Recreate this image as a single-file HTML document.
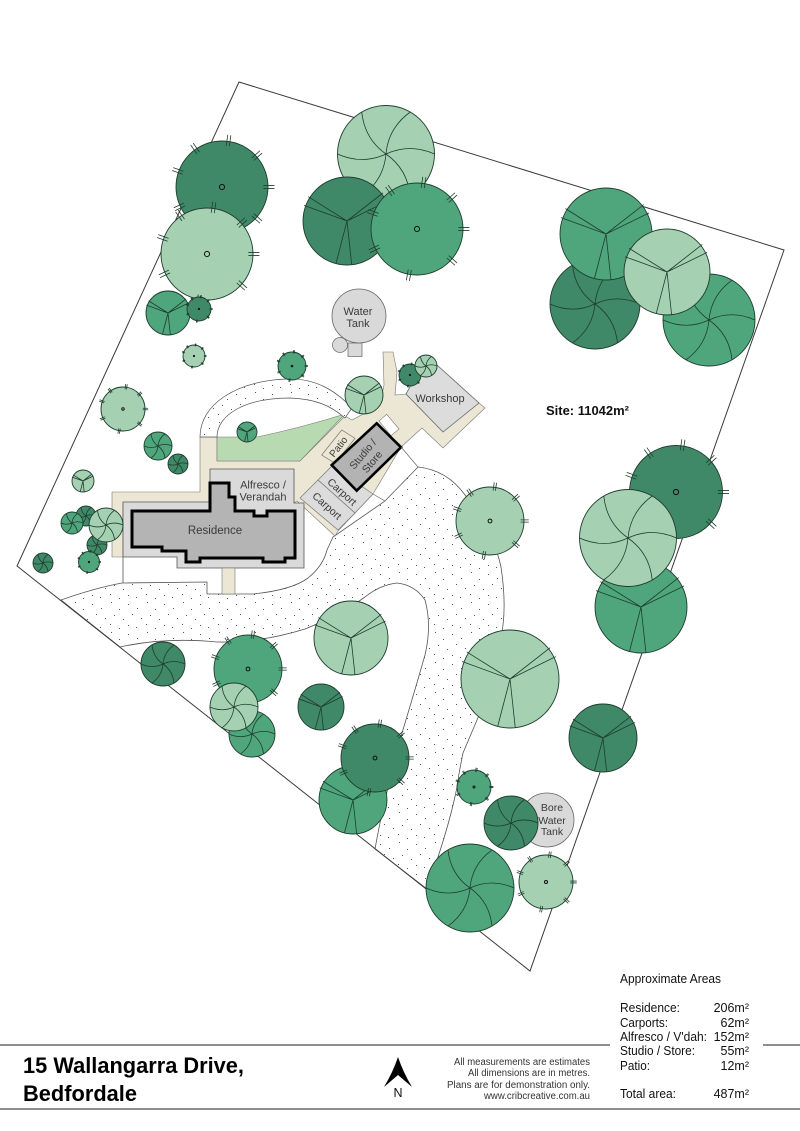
<!DOCTYPE html>
<html><head><meta charset="utf-8">
<style>
html,body{margin:0;padding:0;background:#fff;}
svg{display:block;}
text{font-family:"Liberation Sans",Arial,sans-serif;}
</style></head><body>
<svg width="800" height="1131" viewBox="0 0 800 1131" xmlns="http://www.w3.org/2000/svg">
<defs>
<pattern id="gr" width="36" height="30" patternUnits="userSpaceOnUse">
<rect width="36" height="30" fill="#fff"/>
<path fill="#555" d="M3 2h1v1h-1zM20 4h1v1h-1zM11 9h1v1h-1zM29 8h1v1h-1zM6 15h1v1h-1zM24 14h1v1h-1zM15 19h1v1h-1zM33 18h1v1h-1zM2 24h1v1h-1zM20 25h1v1h-1zM11 28h1v1h-1zM28 27h1v1h-1z"/>
</pattern>
<g id="tk"><path d="M45 -1.7H57M45 1.7H57" fill="none" stroke="#1f3d2e" stroke-width="0.8" vector-effect="non-scaling-stroke"/></g>
<g id="dot">
<circle r="50" stroke="#1f3d2e" stroke-width="0.9" vector-effect="non-scaling-stroke"/>
<circle r="2.8" fill="none" stroke="#111" stroke-width="1" vector-effect="non-scaling-stroke"/>
<use href="#tk"/><use href="#tk" transform="rotate(42)"/><use href="#tk" transform="rotate(100)"/><use href="#tk" transform="rotate(155)"/><use href="#tk" transform="rotate(200)"/><use href="#tk" transform="rotate(235)"/><use href="#tk" transform="rotate(278)"/><use href="#tk" transform="rotate(318)"/>
</g>
<g id="seg">
<circle r="50" stroke="#1f3d2e" stroke-width="0.9" vector-effect="non-scaling-stroke"/>
<path d="M0 0L-48.9 -17.8M0 0L-44.1 -27.6M0 0L41 -32M0 0L46.7 -22.8M0 0L5.4 50M0 0L-12.6 48.5" fill="none" stroke="#1f3d2e" stroke-width="0.8" vector-effect="non-scaling-stroke"/>
</g>
<g id="flw">
<circle r="50" stroke="#1f3d2e" stroke-width="0.9" vector-effect="non-scaling-stroke"/>
<path d="M0 0Q24.5 -11.4 50 0M0 0Q22.1 15.5 25 43.3M0 0Q-2.4 26.9 -25 43.3M0 0Q-24.5 11.4 -50 0M0 0Q-22.1 -15.5 -25 -43.3M0 0Q2.4 -26.9 25 -43.3" fill="none" stroke="#1f3d2e" stroke-width="0.8" vector-effect="non-scaling-stroke"/>
</g>
</defs>

<rect width="800" height="1131" fill="#fff"/>

<!-- gravel driveway -->
<path d="M61,600 Q95,588 122,583 L207,582 L207,594 L253,594 Q292,590 308,578 Q323,566 327,550 L333,537 L385,501 L418,467 Q447,470 465,495 Q493,530 501,567 Q506,600 503,625 Q496,675 477,720 L463,753 Q459,772 457,787 Q451,818 437,860 L427,889 L375,849 Q382,810 390,780 Q398,750 402,733 Q415,690 425,655 Q432,625 425,600 Q415,585 397,583 Q380,585 365,597 Q340,615 305,629 Q260,643 217,642 Q165,637 120,647 Z" fill="url(#gr)" stroke="#555" stroke-width="0.8"/>

<!-- beige paving -->
<polygon points="112,492 200,492 200,437 217,437 217,461 300,461 345,416 352,420 380,405 384,385 383,352 393,352 397,372 395,395 406,394 479,403 485,408 443,448 422,428 401,447 373,494 338,531 335,536 297,501 294,503 123,503 123,557 112,557" fill="#ece7d4" stroke="#777" stroke-width="0.6"/>

<!-- lawn -->
<path d="M217,437 L257,437 Q300,428 345,414 L300,461 L217,461 Z" fill="#b7dab0" stroke="#777" stroke-width="0.6"/>

<!-- gravel arc walkway -->
<path d="M200,437 C200,405 235,381 287,379 C315,378 335,390 352,408 L345,418 C330,405 315,399 290,398 C245,398 217,415 217,437 Z" fill="url(#gr)" stroke="#555" stroke-width="0.7"/>

<!-- white notch -->
<polygon points="379,421 386.7,414.3 399,429 391,435.7" fill="#fff" stroke="#777" stroke-width="0.6"/>

<!-- workshop -->
<polygon points="427,356 479,403 443,432 406,394" fill="#dcdcdc" stroke="#666" stroke-width="0.8"/>

<!-- alfresco -->
<polygon points="123,502 210,502 210,469 294,469 294,503 304,503 304,568 177,568 177,557 123,557" fill="#dadada" stroke="#555" stroke-width="0.8"/>
<line x1="123" y1="557" x2="123" y2="583" stroke="#555" stroke-width="0.8"/>
<rect x="222" y="568" width="13" height="26" fill="#ece7d4" stroke="#777" stroke-width="0.6"/>

<!-- residence -->
<polygon points="132,511 210,511 210,483 229,483 229,497 235,497 235,511 254,511 254,516 267,516 267,511 295,511 295,558 285,558 285,562 263,562 263,558 200,558 200,562 186,562 186,551 162,551 162,547 132,547" fill="#b4b4b4" stroke="#000" stroke-width="3" stroke-linejoin="miter"/>

<!-- carports -->
<polygon points="318,480 332,466 373,494 355,513" fill="#dcdcdc" stroke="#777" stroke-width="0.7"/>
<polygon points="300,498 318,480 355,513 338,530" fill="#dcdcdc" stroke="#777" stroke-width="0.7"/>
<!-- patio -->
<polygon points="321.7,455 341.7,430 355,438.3 335,463.3" fill="#ece7d4" stroke="#777" stroke-width="0.7"/>
<!-- studio -->
<polygon points="376.7,423.3 401,447.3 356.7,490.7 331.7,465" fill="#b3b3b3" stroke="#000" stroke-width="2.6"/>

<line x1="401" y1="447" x2="418" y2="467" stroke="#666" stroke-width="0.7"/>
<line x1="373" y1="494" x2="385" y2="501" stroke="#666" stroke-width="0.7"/>

<!-- water tank -->
<circle cx="340" cy="345" r="7.5" fill="#d9d9d9" stroke="#666" stroke-width="0.7"/>
<rect x="348" y="343" width="14" height="13.5" fill="#d9d9d9" stroke="#666" stroke-width="0.7"/>
<circle cx="359" cy="316" r="27" fill="#d9d9d9" stroke="#666" stroke-width="0.8"/>

<!-- site boundary -->
<polygon points="239,82 784,250 530,971 17,566" fill="none" stroke="#3a3a3a" stroke-width="1"/>

<!-- bore tank -->
<circle cx="547" cy="820" r="27" fill="#d9d9d9" stroke="#666" stroke-width="0.8"/>

<!-- trees -->
<g>
<use href="#dot" transform="translate(222 187) scale(.92)" fill="#3f8868"/>
<use href="#dot" transform="translate(207 254) scale(.92)" fill="#a5d1b2"/>
<use href="#seg" transform="translate(168 313) scale(.44)" fill="#4fa67c"/>
<use href="#dot" transform="translate(199 309) scale(.24)" fill="#3f8868"/>
<use href="#flw" transform="translate(386 154) scale(.97)" fill="#a5d1b2"/>
<use href="#seg" transform="translate(347 221) scale(.88)" fill="#3f8868"/>
<use href="#dot" transform="translate(417 229) scale(.92)" fill="#4fa67c"/>
<use href="#flw" transform="translate(595 304) scale(.9)" fill="#3f8868"/>
<use href="#flw" transform="translate(709 320) scale(.92)" fill="#4fa67c"/>
<use href="#seg" transform="translate(606 234) scale(.92)" fill="#4fa67c"/>
<use href="#seg" transform="translate(667 272) scale(.86)" fill="#a5d1b2"/>
<use href="#dot" transform="translate(676 492) scale(.93)" fill="#3f8868"/>
<use href="#seg" transform="translate(641 607) scale(.92)" fill="#4fa67c"/>
<use href="#flw" transform="translate(628 538) scale(.97)" fill="#a5d1b2"/>
<use href="#dot" transform="translate(490 521) scale(.68)" fill="#a5d1b2"/>
<use href="#seg" transform="translate(510 679) scale(.98)" fill="#a5d1b2"/>
<use href="#seg" transform="translate(603 738) scale(.68)" fill="#3f8868"/>
<use href="#dot" transform="translate(474 787) scale(.34)" fill="#4fa67c"/>
<use href="#flw" transform="translate(511 823) scale(.54)" fill="#3f8868"/>
<use href="#flw" transform="translate(470 888) scale(.88)" fill="#4fa67c"/>
<use href="#dot" transform="translate(546 882) scale(.54)" fill="#a5d1b2"/>
<use href="#seg" transform="translate(351 638) scale(.74)" fill="#a5d1b2"/>
<use href="#dot" transform="translate(248 669) scale(.68)" fill="#4fa67c"/>
<use href="#flw" transform="translate(163 664) scale(.44)" fill="#3f8868"/>
<use href="#flw" transform="translate(252 734) scale(.46)" fill="#4fa67c"/>
<use href="#flw" transform="translate(234 707) scale(.48)" fill="#a5d1b2"/>
<use href="#seg" transform="translate(321 707) scale(.46)" fill="#3f8868"/>
<use href="#seg" transform="translate(353 800) scale(.68)" fill="#4fa67c"/>
<use href="#dot" transform="translate(375 758) scale(.68)" fill="#3f8868"/>
<use href="#dot" transform="translate(123 409) scale(.44)" fill="#a5d1b2"/>
<use href="#flw" transform="translate(158 446) scale(.28)" fill="#4fa67c"/>
<use href="#flw" transform="translate(178 464) scale(.2)" fill="#3f8868"/>
<use href="#seg" transform="translate(83 481) scale(.22)" fill="#a5d1b2"/>
<use href="#flw" transform="translate(86 516) scale(.2)" fill="#3f8868"/>
<use href="#flw" transform="translate(72 523) scale(.22)" fill="#4fa67c"/>
<use href="#flw" transform="translate(97 545) scale(.2)" fill="#3f8868"/>
<use href="#dot" transform="translate(89 562) scale(.21)" fill="#4fa67c"/>
<use href="#flw" transform="translate(106 525) scale(.34)" fill="#a5d1b2"/>
<use href="#flw" transform="translate(43 563) scale(.2)" fill="#3f8868"/>
<use href="#dot" transform="translate(194 356) scale(.22)" fill="#a5d1b2"/>
<use href="#dot" transform="translate(292 366) scale(.28)" fill="#4fa67c"/>
<use href="#seg" transform="translate(364 395) scale(.38)" fill="#a5d1b2"/>
<use href="#dot" transform="translate(410 375) scale(.22)" fill="#3f8868"/>
<use href="#flw" transform="translate(426 366) scale(.22)" fill="#a5d1b2"/>
<use href="#seg" transform="translate(247 432) scale(.2)" fill="#4fa67c"/>
</g>

<!-- labels -->
<g fill="#3a3a3a" font-size="11" text-anchor="middle">
<text x="358" y="315">Water</text>
<text x="358" y="327">Tank</text>
<text x="440" y="402">Workshop</text>
<text x="263" y="488.5">Alfresco /</text>
<text x="263" y="500.5">Verandah</text>
<text x="215" y="534" font-size="11.5">Residence</text>
<text transform="translate(367.5 458) rotate(-50)" font-size="10.5"><tspan x="0" y="-2.5">Studio /</tspan><tspan x="0" y="9.5">Store</tspan></text>
<text transform="translate(338.3 446.7) rotate(-52)" font-size="10" y="3.5">Patio</text>
<text transform="translate(342 492) rotate(42)" font-size="10.5" y="3.5">Carport</text>
<text transform="translate(327 506) rotate(42)" font-size="10.5" y="3.5">Carport</text>
<text x="552" y="811" font-size="10.5">Bore</text>
<text x="552" y="824" font-size="10.5">Water</text>
<text x="552" y="835" font-size="10.5">Tank</text>
</g>
<text x="546" y="415" font-size="13" font-weight="bold" fill="#111" textLength="83" lengthAdjust="spacingAndGlyphs">Site: 11042m²</text>

<!-- footer -->
<line x1="0" y1="1045" x2="610" y2="1045" stroke="#8e8e8e" stroke-width="2"/>
<line x1="763" y1="1045" x2="800" y2="1045" stroke="#8e8e8e" stroke-width="2"/>
<line x1="0" y1="1109" x2="800" y2="1109" stroke="#8e8e8e" stroke-width="2"/>

<text x="23" y="1073" font-size="22.5" font-weight="bold" fill="#000" textLength="221" lengthAdjust="spacingAndGlyphs">15 Wallangarra Drive,</text>
<text x="23" y="1101" font-size="22.5" font-weight="bold" fill="#000" textLength="114" lengthAdjust="spacingAndGlyphs">Bedfordale</text>

<path d="M398,1057 Q393,1072 384,1087 L398,1075 L412,1087 Q403,1072 398,1057 Z" fill="#000"/>
<text x="398" y="1097" font-size="12.5" text-anchor="middle" fill="#111">N</text>

<g fill="#333" font-size="10" text-anchor="end">
<text x="590" y="1065" textLength="136" lengthAdjust="spacingAndGlyphs">All measurements are estimates</text>
<text x="590" y="1076" textLength="122" lengthAdjust="spacingAndGlyphs">All dimensions are in metres.</text>
<text x="590" y="1088" textLength="143" lengthAdjust="spacingAndGlyphs">Plans are for demonstration only.</text>
<text x="590" y="1099" textLength="106" lengthAdjust="spacingAndGlyphs">www.cribcreative.com.au</text>
</g>

<g fill="#111" font-size="12.5">
<text x="620" y="983" textLength="101" lengthAdjust="spacingAndGlyphs">Approximate Areas</text>
<text x="620" y="1012" textLength="60" lengthAdjust="spacingAndGlyphs">Residence:</text>
<text x="620" y="1027" textLength="48" lengthAdjust="spacingAndGlyphs">Carports:</text>
<text x="620" y="1041" textLength="87" lengthAdjust="spacingAndGlyphs">Alfresco / V'dah:</text>
<text x="620" y="1055" textLength="75" lengthAdjust="spacingAndGlyphs">Studio / Store:</text>
<text x="620" y="1070" textLength="30" lengthAdjust="spacingAndGlyphs">Patio:</text>
<text x="620" y="1098" textLength="56" lengthAdjust="spacingAndGlyphs">Total area:</text>
</g>
<g fill="#111" font-size="12.5" text-anchor="end">
<text x="749" y="1012">206m²</text>
<text x="749" y="1027">62m²</text>
<text x="749" y="1041">152m²</text>
<text x="749" y="1055">55m²</text>
<text x="749" y="1070">12m²</text>
<text x="749" y="1098">487m²</text>
</g>
</svg>
</body></html>
